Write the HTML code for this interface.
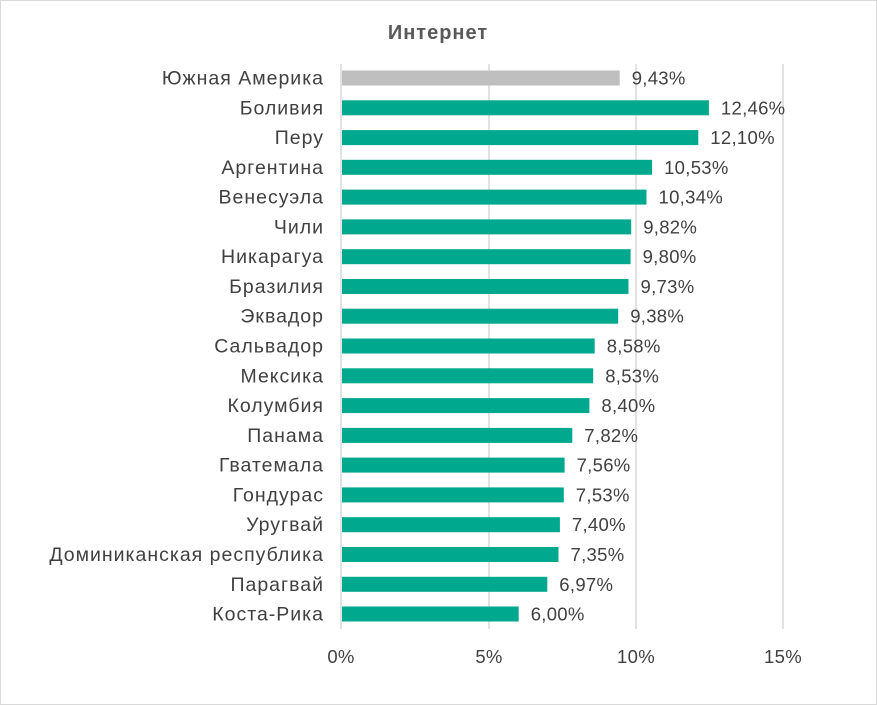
<!DOCTYPE html>
<html><head><meta charset="utf-8"><style>
html,body{margin:0;padding:0;background:#fff;}
svg{display:block;font-family:"Liberation Sans","DejaVu Sans",sans-serif;}
</style></head><body>
<svg width="877" height="705" viewBox="0 0 877 705" xmlns="http://www.w3.org/2000/svg">
<rect x="0.5" y="0.5" width="876" height="704" fill="#fff" stroke="#d9d9d9"/>
<text x="438" y="39" text-anchor="middle" font-size="20" font-weight="bold" letter-spacing="1" fill="#595959">Интернет</text>
<g stroke="#d9d9d9" stroke-width="1.5">
<line x1="341" y1="64" x2="341" y2="629"/>
<line x1="489" y1="64" x2="489" y2="629"/>
<line x1="636" y1="64" x2="636" y2="629"/>
<line x1="783" y1="64" x2="783" y2="629"/>
</g>
<g font-size="18.5" fill="#404040" text-anchor="middle" letter-spacing="0.3">
<text x="341" y="663">0%</text><text x="489" y="663">5%</text><text x="636" y="663">10%</text><text x="783" y="663">15%</text>
</g>
<g fill="#00a88e">
<rect x="342" y="70.5" width="277.7" height="15" fill="#bfbfbf"/>
<rect x="342" y="100.3" width="366.9" height="15"/>
<rect x="342" y="130.1" width="356.3" height="15"/>
<rect x="342" y="159.8" width="310.1" height="15"/>
<rect x="342" y="189.6" width="304.5" height="15"/>
<rect x="342" y="219.4" width="289.2" height="15"/>
<rect x="342" y="249.2" width="288.6" height="15"/>
<rect x="342" y="279.0" width="286.5" height="15"/>
<rect x="342" y="308.7" width="276.2" height="15"/>
<rect x="342" y="338.5" width="252.7" height="15"/>
<rect x="342" y="368.3" width="251.2" height="15"/>
<rect x="342" y="398.1" width="247.4" height="15"/>
<rect x="342" y="427.9" width="230.3" height="15"/>
<rect x="342" y="457.6" width="222.6" height="15"/>
<rect x="342" y="487.4" width="221.8" height="15"/>
<rect x="342" y="517.2" width="217.9" height="15"/>
<rect x="342" y="547.0" width="216.5" height="15"/>
<rect x="342" y="576.8" width="205.3" height="15"/>
<rect x="342" y="606.5" width="176.7" height="15"/>
</g>
<g font-size="19.5" fill="#404040" text-anchor="end" letter-spacing="1">
<text x="324" y="84.5">Южная Америка</text>
<text x="324" y="114.3">Боливия</text>
<text x="324" y="144.1">Перу</text>
<text x="324" y="173.8">Аргентина</text>
<text x="324" y="203.6">Венесуэла</text>
<text x="324" y="233.4">Чили</text>
<text x="324" y="263.2">Никарагуа</text>
<text x="324" y="293.0">Бразилия</text>
<text x="324" y="322.7">Эквадор</text>
<text x="324" y="352.5">Сальвадор</text>
<text x="324" y="382.3">Мексика</text>
<text x="324" y="412.1">Колумбия</text>
<text x="324" y="441.9">Панама</text>
<text x="324" y="471.6">Гватемала</text>
<text x="324" y="501.4">Гондурас</text>
<text x="324" y="531.2">Уругвай</text>
<text x="324" y="561.0">Доминиканская республика</text>
<text x="324" y="590.8">Парагвай</text>
<text x="324" y="620.5">Коста-Рика</text>
</g>
<g font-size="18.5" fill="#404040" letter-spacing="0.3">
<text x="631.7" y="84.5">9,43%</text>
<text x="720.9" y="114.3">12,46%</text>
<text x="710.3" y="144.1">12,10%</text>
<text x="664.1" y="173.8">10,53%</text>
<text x="658.5" y="203.6">10,34%</text>
<text x="643.2" y="233.4">9,82%</text>
<text x="642.6" y="263.2">9,80%</text>
<text x="640.5" y="293.0">9,73%</text>
<text x="630.2" y="322.7">9,38%</text>
<text x="606.7" y="352.5">8,58%</text>
<text x="605.2" y="382.3">8,53%</text>
<text x="601.4" y="412.1">8,40%</text>
<text x="584.3" y="441.9">7,82%</text>
<text x="576.6" y="471.6">7,56%</text>
<text x="575.8" y="501.4">7,53%</text>
<text x="571.9" y="531.2">7,40%</text>
<text x="570.5" y="561.0">7,35%</text>
<text x="559.3" y="590.8">6,97%</text>
<text x="530.7" y="620.5">6,00%</text>
</g>
</svg>
</body></html>
